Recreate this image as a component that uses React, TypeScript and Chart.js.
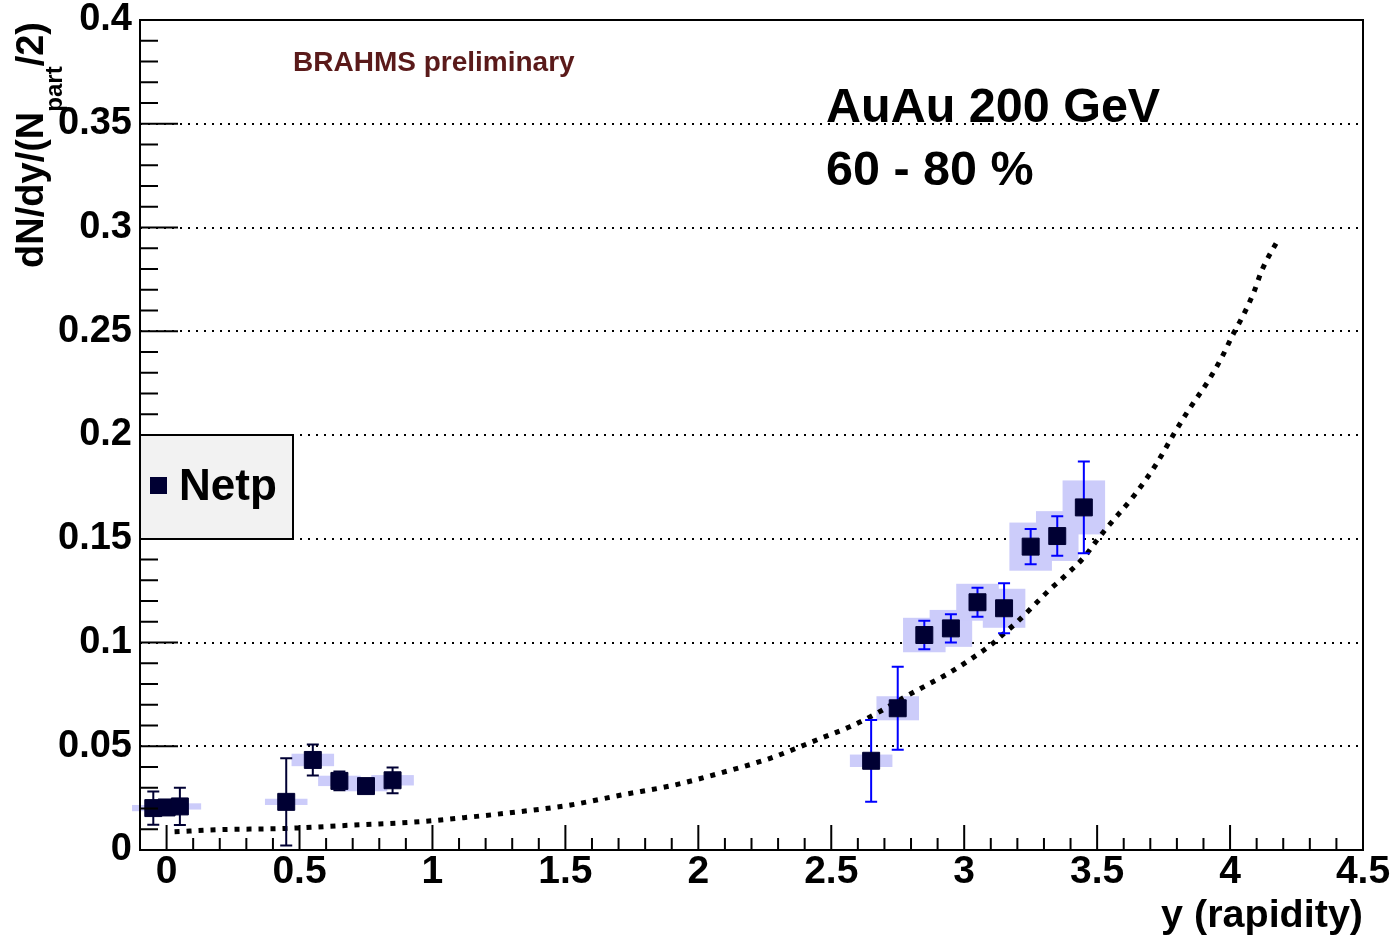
import React, { useEffect, useRef } from 'react';
import { Chart, registerables } from 'chart.js';

Chart.register(...registerables);

// Net-proton rapidity density per participant pair, Au+Au 200 GeV, 60-80 % centrality.
// Mid-rapidity spectrometer points
const midRap = [-0.05, 0, 0.05, 0.45, 0.55, 0.65, 0.75, 0.85];
const midVal = [0.0202, 0.0205, 0.021, 0.0232, 0.0434, 0.0333, 0.0308, 0.0336];
const midStat = [0.008, 0.0035, 0.009, 0.021, 0.0075, 0.0045, 0.003, 0.0062];
const midSyst = [0.0015, 0.0015, 0.0015, 0.0015, 0.003, 0.0025, 0.0025, 0.0025];

// Forward spectrometer points
const fwdRap = [2.65, 2.75, 2.85, 2.95, 3.05, 3.15, 3.25, 3.35, 3.45];
const fwdVal = [0.043, 0.0683, 0.1036, 0.1068, 0.1194, 0.1165, 0.1462, 0.1513, 0.1651];
const fwdStat = [0.0197, 0.02, 0.0069, 0.0068, 0.007, 0.012, 0.0085, 0.0095, 0.0221];
const fwdSyst = [0.003, 0.0058, 0.0083, 0.0089, 0.0089, 0.0094, 0.0116, 0.012, 0.013];

// Half width (in rapidity) of the systematic-error boxes
const systHalfWidth = 0.08;

// Dotted reference curve
const curveRap = [
  0.03, 0.2, 0.45, 0.7, 0.95, 1.15, 1.33, 1.52, 1.71, 1.91, 2.08, 2.27, 2.46, 2.57, 2.66,
  2.79, 2.86, 2.94, 3.02, 3.1, 3.15, 3.2, 3.27, 3.32, 3.37, 3.45, 3.5, 3.54, 3.64, 3.72,
  3.79, 3.84, 3.92, 3.97, 4.01, 4.05, 4.09, 4.12, 4.18,
];
const curveVal = [
  0.0088, 0.0098, 0.0104, 0.012, 0.0136, 0.016, 0.0185, 0.0217, 0.0265, 0.0313, 0.037,
  0.0442, 0.0538, 0.0594, 0.0651, 0.0747, 0.0795, 0.0851, 0.0916, 0.0988, 0.1044, 0.11,
  0.1189, 0.1253, 0.131, 0.141, 0.1494, 0.1558, 0.171, 0.1855, 0.2008, 0.2112, 0.2265,
  0.2377, 0.2482, 0.2578, 0.269, 0.2795, 0.294,
];

const xTicks = [0, 0.5, 1, 1.5, 2, 2.5, 3, 3.5, 4, 4.5];
const xTickLabels = ['0', '0.5', '1', '1.5', '2', '2.5', '3', '3.5', '4', '4.5'];
const yTicks = [0, 0.05, 0.1, 0.15, 0.2, 0.25, 0.3, 0.35, 0.4];
const yTickLabels = ['0', '0.05', '0.1', '0.15', '0.2', '0.25', '0.3', '0.35', '0.4'];

const X_MIN = -0.1;
const X_MAX = 4.5;
const Y_MIN = 0;
const Y_MAX = 0.4;

const FONT = "'Liberation Sans', Arial, Helvetica, sans-serif";
const MARKER = '#000033';
const SYST_FILL = '#ccccfa';
const CURVE_INDEX = 0;

const rootStyle = {
  id: 'rootStyle',
  beforeDatasetsDraw(chart: any) {
    const { ctx, scales } = chart;
    const x = scales.x;
    const y = scales.y;
    ctx.save();
    ctx.fillStyle = SYST_FILL;
    const boxes = (rap: number[], val: number[], syst: number[]) => {
      rap.forEach((r, i) => {
        const l = x.getPixelForValue(r - systHalfWidth);
        const rr = x.getPixelForValue(r + systHalfWidth);
        const t = y.getPixelForValue(val[i] + syst[i]);
        const b = y.getPixelForValue(val[i] - syst[i]);
        ctx.fillRect(l, t, rr - l, b - t);
      });
    };
    boxes(midRap, midVal, midSyst);
    boxes(fwdRap, fwdVal, fwdSyst);
    ctx.restore();
  },
  afterDatasetDraw(chart: any, args: any) {
    if (args.index !== CURVE_INDEX) return;
    const { ctx, scales } = chart;
    const x = scales.x;
    const y = scales.y;
    const bars = (rap: number[], val: number[], stat: number[], color: string) => {
      ctx.strokeStyle = color;
      ctx.lineWidth = 2;
      rap.forEach((r, i) => {
        const px = x.getPixelForValue(r);
        const top = y.getPixelForValue(val[i] + stat[i]);
        const bot = y.getPixelForValue(Math.max(val[i] - stat[i], Y_MIN));
        ctx.beginPath();
        ctx.moveTo(px, top);
        ctx.lineTo(px, bot);
        ctx.moveTo(px - 6, top);
        ctx.lineTo(px + 6, top);
        ctx.moveTo(px - 6, bot);
        ctx.lineTo(px + 6, bot);
        ctx.stroke();
      });
    };
    ctx.save();
    bars(midRap, midVal, midStat, MARKER);
    bars(fwdRap, fwdVal, fwdStat, '#0000ff');
    ctx.restore();
  },
  afterDraw(chart: any) {
    const { ctx, chartArea, scales } = chart;
    const x = scales.x;
    const y = scales.y;
    const { left, right, top, bottom } = chartArea;
    ctx.save();

    // frame
    ctx.strokeStyle = '#000';
    ctx.lineWidth = 2;
    ctx.strokeRect(left, top, right - left, bottom - top);

    // x-axis ticks: minor every 0.1, major every 0.5
    ctx.beginPath();
    for (let k = -1; k <= 45; k++) {
      const px = x.getPixelForValue(k / 10);
      const len = k % 5 === 0 ? 25 : 12;
      ctx.moveTo(px, bottom);
      ctx.lineTo(px, bottom - len);
    }
    // y-axis ticks: minor every 0.01, major every 0.05
    for (let k = 0; k <= 40; k++) {
      const py = y.getPixelForValue(k / 100);
      const len = k % 5 === 0 ? 38 : 18;
      ctx.moveTo(left, py);
      ctx.lineTo(left + len, py);
    }
    ctx.stroke();

    // legend
    ctx.fillStyle = '#f2f2f2';
    ctx.fillRect(left, 435, 153, 104);
    ctx.strokeRect(left, 435, 153, 104);
    ctx.fillStyle = MARKER;
    ctx.fillRect(left + 10, 477, 17, 17);
    ctx.fillStyle = '#000';
    ctx.font = `bold 44px ${FONT}`;
    ctx.textAlign = 'left';
    ctx.textBaseline = 'alphabetic';
    ctx.fillText('Netp', left + 39, 500);

    // annotations
    ctx.fillStyle = '#5a1a1a';
    ctx.font = `bold 28px ${FONT}`;
    ctx.fillText('BRAHMS preliminary', 293, 71);
    ctx.fillStyle = '#000';
    ctx.font = `bold 48.5px ${FONT}`;
    ctx.fillText('AuAu 200 GeV', 826, 122);
    ctx.fillText('60 - 80 %', 826, 185);

    // x-axis title
    ctx.font = `bold 39.5px ${FONT}`;
    ctx.textAlign = 'right';
    ctx.fillText('y (rapidity)', right, 927);

    // y-axis title with subscript
    const mainFont = `bold 38px ${FONT}`;
    const subFont = `bold 24px ${FONT}`;
    const p1 = 'dN/dy/(N';
    const sub = 'part';
    const p2 = '/2)';
    ctx.font = mainFont;
    const w1 = ctx.measureText(p1).width;
    const w3 = ctx.measureText(p2).width;
    ctx.font = subFont;
    const w2 = ctx.measureText(sub).width;
    const total = w1 + w2 + w3;
    ctx.translate(43, top + 2 + total);
    ctx.rotate(-Math.PI / 2);
    ctx.textAlign = 'left';
    ctx.font = mainFont;
    ctx.fillText(p1, 0, 0);
    ctx.font = subFont;
    ctx.fillText(sub, w1, 19);
    ctx.font = mainFont;
    ctx.fillText(p2, w1 + w2, 0);

    ctx.restore();
  },
};

export default function App() {
  const canvasRef = useRef<HTMLCanvasElement | null>(null);

  useEffect(() => {
    const canvas = canvasRef.current;
    if (!canvas) return;

    const chart = new Chart(canvas, {
      type: 'scatter',
      data: {
        datasets: [
          {
            type: 'line',
            label: 'curve',
            data: curveRap.map((r, i) => ({ x: r, y: curveVal[i] })),
            borderColor: '#000',
            borderWidth: 5,
            borderDash: [5, 7],
            pointRadius: 0,
            fill: false,
            cubicInterpolationMode: 'monotone',
            order: 2,
          } as any,
          {
            label: 'Netp',
            data: midRap.map((r, i) => ({ x: r, y: midVal[i] })),
            pointStyle: 'rect',
            pointRadius: 12,
            backgroundColor: MARKER,
            borderColor: MARKER,
            borderWidth: 1,
            order: 0,
          },
          {
            label: 'Netp forward',
            data: fwdRap.map((r, i) => ({ x: r, y: fwdVal[i] })),
            pointStyle: 'rect',
            pointRadius: 12,
            backgroundColor: MARKER,
            borderColor: MARKER,
            borderWidth: 1,
            order: 0,
          },
        ],
      },
      options: {
        responsive: false,
        animation: false,
        devicePixelRatio: 1,
        layout: { padding: { left: 0, right: 32, top: 20, bottom: 0 } },
        plugins: {
          legend: { display: false },
          tooltip: { enabled: false },
          title: { display: false },
        },
        scales: {
          x: {
            type: 'linear',
            min: X_MIN,
            max: X_MAX,
            afterBuildTicks: (s: any) => {
              s.ticks = xTicks.map((v) => ({ value: v }));
            },
            afterFit: (s: any) => {
              s.height = 91;
              s.paddingLeft = 0;
              s.paddingRight = 0;
            },
            ticks: {
              callback: (_v: any, i: number) => xTickLabels[i],
              font: { family: FONT, size: 39, weight: 'bold', lineHeight: 1 },
              color: '#000',
              padding: 3,
              autoSkip: false,
              maxRotation: 0,
              minRotation: 0,
            },
            grid: { display: false, drawTicks: false },
            border: { display: false },
          },
          y: {
            type: 'linear',
            min: Y_MIN,
            max: Y_MAX,
            afterBuildTicks: (s: any) => {
              s.ticks = yTicks.map((v) => ({ value: v }));
            },
            afterFit: (s: any) => {
              s.width = 140;
              s.paddingTop = 0;
              s.paddingBottom = 0;
            },
            ticks: {
              callback: (_v: any, i: number) => yTickLabels[i],
              font: { family: FONT, size: 38, weight: 'bold', lineHeight: 1 },
              color: '#000',
              padding: 8,
              autoSkip: false,
            },
            grid: {
              drawTicks: false,
              lineWidth: 2,
              color: (c: any) =>
                c.tick && (c.tick.value === Y_MIN || c.tick.value === Y_MAX)
                  ? 'rgba(0,0,0,0)'
                  : '#000',
            },
            border: { display: false, dash: [2, 6] },
          },
        },
      },
      plugins: [rootStyle],
    });

    return () => chart.destroy();
  }, []);

  return (
    <div style={{ position: 'absolute', left: 0, top: 0, width: 1395, height: 941, background: '#fff' }}>
      <canvas ref={canvasRef} width={1395} height={941} style={{ display: 'block' }} />
    </div>
  );
}
